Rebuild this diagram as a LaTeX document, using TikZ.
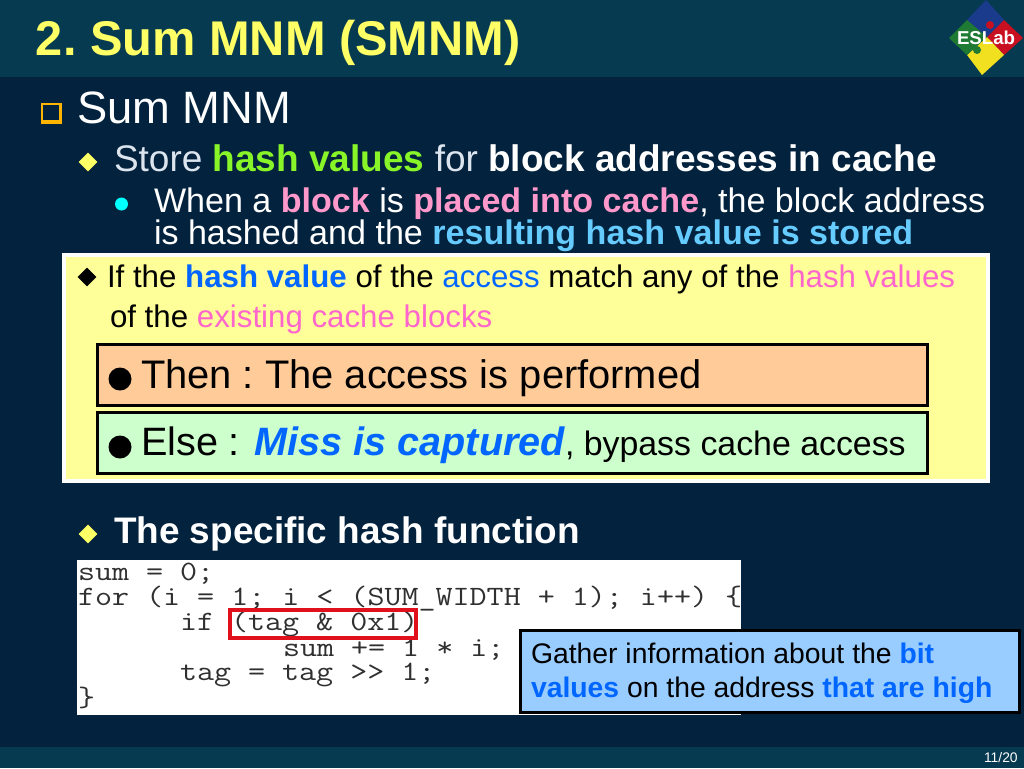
\documentclass[tikz,border=0pt]{standalone}
\usepackage{graphicx}
\usepackage{fontspec}
\setmainfont{Liberation Sans}
\usetikzlibrary{shapes.geometric}
\definecolor{barbg}{HTML}{063A50}
\definecolor{bodybg}{HTML}{02223D}
\definecolor{titleyel}{HTML}{FFFF66}
\definecolor{hgreen}{HTML}{88F528}
\definecolor{hpink}{HTML}{FF99CC}
\definecolor{hcyan}{HTML}{66CCFF}
\definecolor{hblue}{HTML}{0066FF}
\definecolor{boxpink}{HTML}{FF66CC}
\definecolor{boxyel}{HTML}{FFFF99}
\definecolor{boxor}{HTML}{FFCC99}
\definecolor{boxgr}{HTML}{CCFFCC}
\definecolor{boxbl}{HTML}{99CCFF}
\definecolor{bulor}{HTML}{FFB400}
\definecolor{bulcy}{HTML}{00FFFF}
\definecolor{storegrey}{HTML}{DCE4EE}
\definecolor{codegrey}{HTML}{303030}
\definecolor{redbox}{HTML}{E0101C}
\definecolor{logob}{HTML}{1A3A8C}
\definecolor{logor}{HTML}{C81020}
\definecolor{logoy}{HTML}{F0E020}
\definecolor{logog}{HTML}{1F7A33}
\newcommand{\fsz}[1]{\fontsize{#1}{#1}\selectfont}
\newcommand{\codeline}[1]{\scalebox{1.181}[1]{#1}}
\tikzset{
  x=0.75pt,y=-0.75pt,
  txt/.style={anchor=base west,inner sep=0pt,outer sep=0pt},
  code/.style={txt,text=codegrey,font=\ttfamily\fsz{21}},
  diam/.style={diamond,inner sep=0pt,minimum size=#1*0.75pt},
  dot/.style={circle,inner sep=0pt,minimum size=#1*0.75pt},
  panel/.style={draw=black,line width=2.25pt}
}
\begin{document}
\begin{tikzpicture}
\useasboundingbox (0,0) rectangle (1024,768);
\fill[bodybg] (0,0) rectangle (1024,768);
\fill[barbg] (0,0) rectangle (1024,77);
\fill[barbg] (0,747) rectangle (1024,768);
% logo
\fill[logob] (986,0) -- (1004,20) -- (987,37) -- (967,20) -- cycle;
\fill[logor] (1004,20) -- (1023,38) -- (1004,55) -- (987,37) -- cycle;
\fill[logoy] (987,37) -- (1004,55) -- (982,75) -- (967,55) -- cycle;
\fill[logog] (967,20) -- (987,37) -- (967,55) -- (949,38) -- cycle;
\fill[logog] (977,50) circle (4);
\fill[logor] (990,25) circle (4);
\node[txt,text=white,font=\bfseries\fsz{14}] (logo) at (957,44) {ESLab};
% title
\node[txt,text=titleyel,font=\bfseries\fsz{36.55}] (title) at (36,55) {\frenchspacing 2. Sum MNM (SMNM)};
% first bullets
\fill[bulor] (41,103) rectangle (62,124);
\fill[bodybg] (43,105) rectangle (59,120);
\node[diam=19,fill=titleyel] (b2) at (88,162) {};
\node[dot=13,fill=bulcy] (b3) at (121.5,204) {};
\node[txt,text=white,font=\fsz{34}] (l1) at (77,123) {Sum MNM};
\node[txt,text=storegrey,font=\fsz{27.75}] (l2) at (114,171) {Store \textcolor{hgreen}{\bfseries hash values} for \textcolor{white}{\bfseries block addresses in cache}};
\node[txt,text=white,font=\fsz{25.55}] (l3) at (154,212.5) {When a \textcolor{hpink}{\bfseries block} is \textcolor{hpink}{\bfseries placed into cache}, the block address};
\node[txt,text=white,font=\fsz{25.55}] (l4) at (154,244.5) {is hashed and the \textcolor{hcyan}{\bfseries resulting hash value is stored}};
% yellow panel
\fill[white] (62,253) rectangle (990,483);
\fill[boxyel] (66,257) rectangle (986,479);
\node[diam=19,fill=black] (b4) at (87,277) {};
\node[txt,text=black,font=\fsz{23.45}] (y1) at (107,287) {If the \textcolor{hblue}{\bfseries hash value} of the \textcolor{hblue}{access} match any of the \textcolor{boxpink}{hash values}};
\node[txt,text=black,font=\fsz{23.45}] (y2) at (110,327) {of the \textcolor{boxpink}{existing cache blocks}};
\draw[panel,fill=boxor] (97,344) rectangle (927,405);
\draw[panel,fill=boxgr] (97,412) rectangle (927,473);
\node[dot=23,fill=black] (b5) at (120,379) {};
\node[dot=23,fill=black] (b6) at (120,447) {};
\node[txt,text=black,font=\fsz{29.9}] (thenl) at (141,388) {\frenchspacing Then : The access is performed};
\node[txt,text=black,font=\fsz{29.7}] (elsel) at (141,455) {Else : \textcolor{hblue}{\bfseries\itshape Miss is captured}\fsz{25.4}, bypass cache access};
% second yellow bullet
\node[diam=19,fill=titleyel] (b7) at (88,534) {};
\node[txt,text=white,font=\bfseries\fsz{27.7}] (l5) at (114,543) {The specific hash function};
% code
\fill[white] (77,560) rectangle (741,715);
\node[code] (c1) at (78,580) {\codeline{sum = 0;}};
\node[code] (c2) at (78,605) {\codeline{for (i = 1; i < (SUM\_WIDTH + 1); i++) \{}};
\node[code] (c3) at (180,630) {\codeline{if (tag \& 0x1)}};
\node[code] (c4) at (283,656) {\codeline{sum += 1 * i;}};
\node[code] (c5) at (180,680) {\codeline{tag = tag >> 1;}};
\node[code] (c6) at (78,706) {\codeline{\}}};
\draw[draw=redbox,line width=3pt] (230,610) rectangle (416,638);
% note
\draw[panel,fill=boxbl] (520,630) rectangle (1019,712);
\node[txt,text=black,font=\fsz{21.25}] (n1) at (531,663) {Gather information about the \textcolor{hblue}{\bfseries bit}};
\node[txt,text=black,font=\fsz{21.25}] (n2) at (531,697) {\textcolor{hblue}{\bfseries values} on the address \textcolor{hblue}{\bfseries that are high}};
% page
\node[txt,text=white,font=\fsz{10.4}] (pg) at (984,762) {11/20};
\end{tikzpicture}
\end{document}
